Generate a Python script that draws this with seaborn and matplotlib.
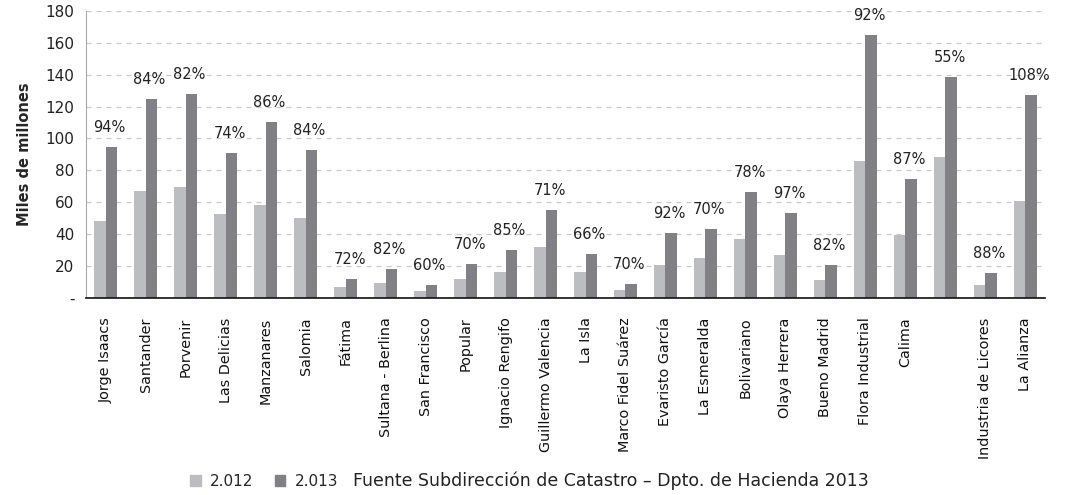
import pandas as pd
import numpy as np
import matplotlib
matplotlib.use("Agg")
import matplotlib.pyplot as plt
import seaborn as sns
from matplotlib.ticker import FixedLocator
from matplotlib.patches import Patch

# data (miles de millones)
barrios = ['Jorge Isaacs', 'Santander', 'Porvenir', 'Las Delicias', 'Manzanares',
           'Salomia', 'Fátima', 'Sultana - Berlina', 'San Francisco', 'Popular',
           'Ignacio Rengifo', 'Guillermo Valencia', 'La Isla', 'Marco Fidel Suárez',
           'Evaristo García', 'La Esmeralda', 'Bolivariano', 'Olaya Herrera',
           'Bueno Madrid', 'Flora Industrial', 'Calima', ' ', 'Industria de Licores',
           'La Alianza']
val_2012 = [48.4, 67.2, 69.7, 52.8, 58.5, 50.3, 7.1, 9.6, 4.6, 12.1, 16.5, 32.2,
            16.5, 5.2, 20.9, 25.3, 37.2, 27.1, 11.5, 86.0, 39.7, 88.5, 8.4, 61.0]
val_2013 = [94.8, 124.9, 128.0, 91.0, 110.5, 92.9, 12.1, 18.4, 8.4, 21.5, 30.3, 55.3,
            27.8, 9.0, 40.9, 43.4, 66.6, 53.5, 20.9, 165.0, 74.8, 138.7, 15.9, 127.4]
pct = ['94%', '84%', '82%', '74%', '86%', '84%', '72%', '82%', '60%', '70%', '85%', '71%',
       '66%', '70%', '92%', '70%', '78%', '97%', '82%', '92%', '87%', '55%', '88%', '108%']
y_ticks = [0, 20, 40, 60, 80, 100, 120, 140, 160, 180]
y_ticklabels = ['-', '20', '40', '60', '80', '100', '120', '140', '160', '180']

df = pd.DataFrame({'Barrio': barrios * 2,
                   'Valor': val_2012 + val_2013,
                   'Año': ['2.012'] * len(barrios) + ['2.013'] * len(barrios)})

c12 = '#bcbdc1'
c13 = '#808085'

sns.set_style('white')
fig = plt.figure(figsize=(10.69, 4.95), dpi=100)
ax = fig.add_axes([0.080, 0.398, 0.898, 0.58])

sns.barplot(data=df, x='Barrio', y='Valor', hue='Año', order=barrios,
            palette=[c12, c13], width=0.58, gap=0, saturation=1,
            linewidth=0, legend=False, ax=ax)

# percentage labels above each group
for i, (v, p) in enumerate(zip(val_2013, pct)):
    ax.text(i + 0.1, v + 12, p, ha='center', va='center', fontsize=10.5, color='#222222')

ax.set_ylim(0, 180)
ax.set_xlim(-0.5, len(barrios) - 0.5)
ax.set_yticks(y_ticks)
ax.set_yticklabels(y_ticklabels, fontsize=11, color='#222222')
ax.yaxis.grid(True, linestyle=(0, (4, 4)), color='#c8c8c8', linewidth=0.9)
ax.set_axisbelow(True)

ax.set_xticks(range(len(barrios)))
ax.set_xticklabels(barrios, rotation=90, fontsize=10.4, color='#111111')
ax.tick_params(axis='x', which='major', length=0, pad=14)
ax.xaxis.set_minor_locator(FixedLocator(np.arange(-0.5, len(barrios), 1)))
ax.tick_params(axis='x', which='minor', length=5, color='#888888', width=0.8)
ax.tick_params(axis='y', length=0, pad=8)

ax.set_xlabel('')
ax.set_ylabel('Miles de millones', fontsize=10.5, fontweight='bold', labelpad=10)

for s in ['top', 'right']:
    ax.spines[s].set_visible(False)
ax.spines['left'].set_color('#aaaaaa')
ax.spines['bottom'].set_color('#111111')
ax.spines['bottom'].set_linewidth(1.2)

handles = [Patch(color=c12, label='2.012'), Patch(color=c13, label='2.013')]
fig.legend(handles=handles, loc='center left', bbox_to_anchor=(0.165, 0.028), ncol=2,
           frameon=False, fontsize=11, handlelength=0.7, handleheight=0.7,
           handletextpad=0.6, columnspacing=1.4)
fig.text(0.330, 0.028, 'Fuente Subdirección de Catastro – Dpto. de Hacienda 2013',
         ha='left', va='center', fontsize=12.5, color='#222222')

fig.savefig('out.png', dpi=100)
